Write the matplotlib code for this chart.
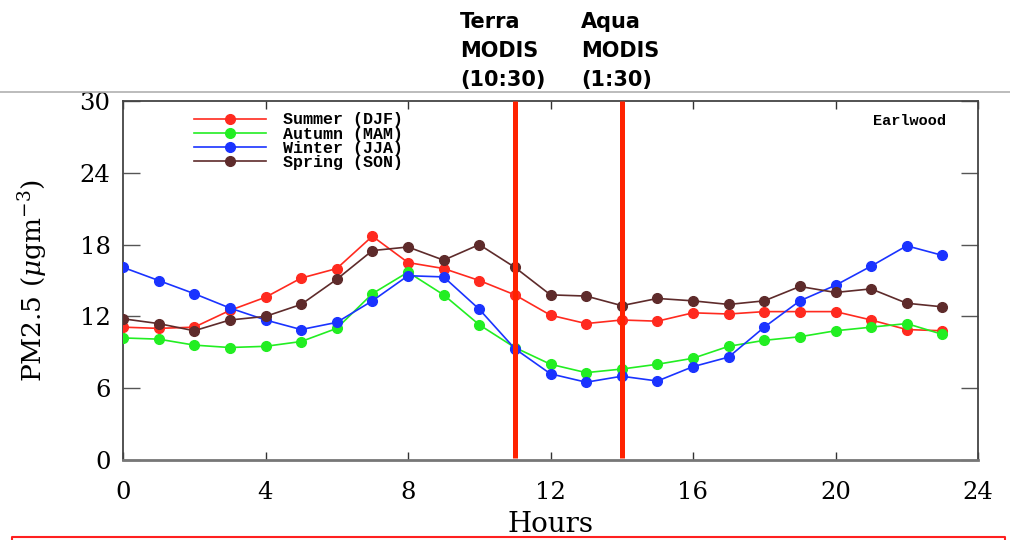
import matplotlib
matplotlib.use("Agg")
import matplotlib.pyplot as plt
from matplotlib.lines import Line2D

hours = list(range(24))
summer = [11.1, 11.0, 11.1, 12.5, 13.6, 15.2, 16.0, 18.7, 16.5, 16.0, 15.0, 13.8,
          12.1, 11.4, 11.7, 11.6, 12.3, 12.2, 12.4, 12.4, 12.4, 11.7, 10.9, 10.8]
autumn = [10.2, 10.1, 9.6, 9.4, 9.5, 9.9, 11.0, 13.9, 15.7, 13.8, 11.3, 9.4,
          8.0, 7.3, 7.6, 8.0, 8.5, 9.5, 10.0, 10.3, 10.8, 11.1, 11.4, 10.5]
winter = [16.1, 15.0, 13.9, 12.7, 11.7, 10.9, 11.5, 13.3, 15.4, 15.3, 12.6, 9.3,
          7.2, 6.5, 7.0, 6.6, 7.8, 8.6, 11.1, 13.3, 14.6, 16.2, 17.9, 17.1]
spring = [11.8, 11.4, 10.8, 11.7, 12.0, 13.0, 15.1, 17.5, 17.8, 16.7, 18.0, 16.1,
          13.8, 13.7, 12.9, 13.5, 13.3, 13.0, 13.3, 14.5, 14.0, 14.3, 13.1, 12.8]
labels = ["Summer (DJF)", "Autumn (MAM)", "Winter (JJA)", "Spring (SON)"]
colors = ["#ff2a1f", "#22ee22", "#1a33ff", "#5e2b2b"]
satellite_hours = [11, 14]
satellite_labels = ["Terra\nMODIS\n(10:30)", "Aqua\nMODIS\n(1:30)"]
yticks = [0, 6, 12, 18, 24, 30]
xticks = [0, 4, 8, 12, 16, 20, 24]

plt.rcParams['mathtext.fontset'] = 'dejavuserif'
fig = plt.figure(figsize=(10.1, 5.4), dpi=100)
ax = fig.add_axes([123/1010, 1 - 460/540, (978-123)/1010, (460-101)/540])

for vals, lab, col in zip([summer, autumn, winter, spring], labels, colors):
    ax.plot(hours, vals, '-o', color=col, lw=1.2, ms=7, label=lab, zorder=3)

for h in satellite_hours:
    ax.plot([h, h], [0.2, 30], color="#ff2200", lw=3.6, zorder=4, solid_capstyle='butt')

ax.set_xlim(0, 24)
ax.set_ylim(0, 30)
ax.set_xticks(xticks)
ax.set_yticks(yticks)
serif = 'DejaVu Serif'
ax.set_xticklabels([str(t) for t in xticks], family=serif, fontsize=17.5)
ax.set_yticklabels([str(t) for t in yticks], family=serif, fontsize=17.5)
ax.tick_params(axis='x', direction='in', length=6, width=1, color='#333333',
               top=True, pad=15)
ax.tick_params(axis='y', direction='in', length=12, width=1, color='#555555',
               right=True, pad=9)
for s in ax.spines.values():
    s.set_color('#444444')
    s.set_linewidth(1.3)
ax.spines['bottom'].set_linewidth(2.0)
ax.spines['bottom'].set_color('#777777')

ax.set_xlabel("Hours", family=serif, fontsize=20, labelpad=5)
ax.set_ylabel(r"PM2.5 ($\mu$gm$^{-3}$)", family=serif, fontsize=19)
ax.yaxis.set_label_coords(-0.085, 0.5)

leg = ax.legend(loc='upper left', bbox_to_anchor=(0.066, 1.01), frameon=False,
                prop={'family': 'Liberation Mono', 'size': 12, 'weight': 'bold'},
                handlelength=4.3, labelspacing=-0.05, handletextpad=1.0,
                borderaxespad=0.5)

ax.text(0.962, 0.945, "Earlwood", transform=ax.transAxes, ha='right', va='center',
        family='Liberation Mono', fontsize=11, fontweight='bold')

for xl, t in zip([460, 581], satellite_labels):
    fig.text(xl / 1010, 1 - 51/540, t,
             ha='left', va='center', fontsize=15, fontweight='bold',
             family='DejaVu Sans', linespacing=1.55)

fig.add_artist(Line2D([0, 1], [1 - 92/540, 1 - 92/540], color='#b0b0b0', lw=1.2,
                      transform=fig.transFigure))
fig.add_artist(Line2D([12/1010, 12/1010, 1005/1010, 1005/1010],
                      [0, 1 - 537/540, 1 - 537/540, 0], color='#ff2020', lw=1.5,
                      transform=fig.transFigure))

fig.savefig("out.png", dpi=100)
